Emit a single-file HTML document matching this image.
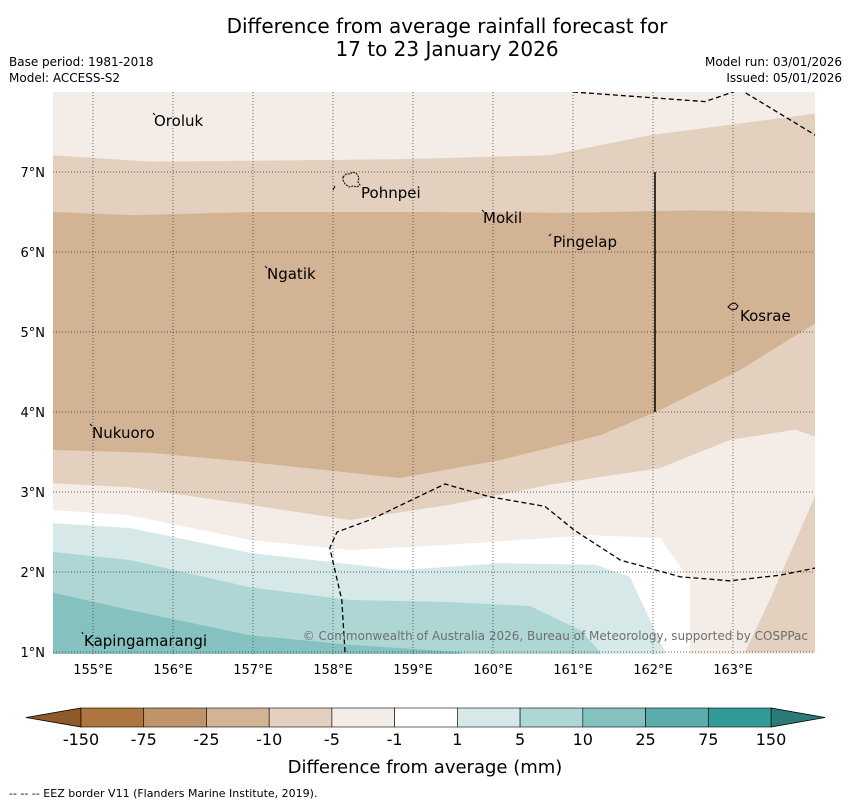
<!DOCTYPE html>
<html><head><meta charset="utf-8"><style>
html,body{margin:0;padding:0;background:#fff;}
svg{display:block;font-family:"DejaVu Sans","Liberation Sans",sans-serif;}
</style></head><body>
<svg id="chart" width="850" height="804" viewBox="0 0 850 804" xmlns="http://www.w3.org/2000/svg">
<text x="447" y="33" font-size="20" text-anchor="middle">Difference from average rainfall forecast for</text>
<text x="447" y="56" font-size="20" text-anchor="middle">17 to 23 January 2026</text>
<text x="9" y="66" font-size="12">Base period: 1981-2018</text>
<text x="9" y="82" font-size="12">Model: ACCESS-S2</text>
<text x="842" y="66" font-size="12" text-anchor="end">Model run: 03/01/2026</text>
<text x="842" y="82" font-size="12" text-anchor="end">Issued: 05/01/2026</text>
<defs><clipPath id="mapclip"><rect x="53" y="92" width="762" height="562"/></clipPath></defs>
<g id="map" clip-path="url(#mapclip)">
<rect x="53" y="92" width="762" height="562" fill="#f4ede7"/>
<g id="bands"></g>
<g id="grid"></g>
<g id="eez"></g>
<line x1="655" y1="172" x2="655" y2="412" stroke="#000" stroke-width="1.5"/>
<path d="M343,177 l3,-3 4,0 3,-2 4,2 2,4 -1,4 2,3 -3,2 -4,-1 -4,1 -4,-3 -2,-4z" fill="none" stroke="#000" stroke-dasharray="2,1"/>
<path d="M728,307 l3,-3 4,-1 3,3 -2,3 -4,1z" fill="none" stroke="#000"/>
</g>
<g font-size="15">
<text x="154" y="126">Oroluk</text>
<text x="361" y="198">Pohnpei</text>
<text x="483" y="223">Mokil</text>
<text x="553" y="247">Pingelap</text>
<text x="267" y="279">Ngatik</text>
<text x="740" y="321">Kosrae</text>
<text x="92" y="438">Nukuoro</text>
<text x="84" y="646">Kapingamarangi</text>
</g>
<g stroke="#000" stroke-width="1">
<line x1="153" y1="113" x2="155" y2="115"/><line x1="482" y1="210" x2="484" y2="212"/>
<line x1="549" y1="236" x2="551" y2="234"/><line x1="265" y1="266" x2="267" y2="268"/>
<line x1="90" y1="424" x2="92" y2="426"/><line x1="82" y1="632" x2="83" y2="634"/>
<line x1="333" y1="190" x2="335" y2="186"/>
</g>
<text x="808" y="640" font-size="12" fill="#6f6f6f" text-anchor="end">© Commonwealth of Australia 2026, Bureau of Meteorology, supported by COSPPac</text>
<g id="axes" font-size="13"></g>
<g id="cbar"></g>
<text x="425" y="773" font-size="18" text-anchor="middle">Difference from average (mm)</text>
<text x="9" y="797" font-size="11">--  --  -- EEZ border V11 (Flanders Marine Institute, 2019).</text>
</svg>
<script>
const lonTicks=[155,156,157,158,159,160,161,162,163];
const latTicks=[1,2,3,4,5,6,7];
const cbLevels=["-150","-75","-25","-10","-5","-1","1","5","10","25","75","150"];
const cbColors=["#ae7540","#c0946a","#d2b394","#e3d0be","#f4ede7","#ffffff","#d6e9e8","#aed6d5","#85c1bf","#5aadaa","#339a97"];
const bandA=[[154.5,7.21],[155.71,7.13],[156.96,7.14],[158.84,7.16],[160.71,7.21],[161.96,7.46],[164.03,7.73]];
const bandB=[[154.5,6.50],[155.5,6.46],[157,6.5],[159,6.5],[161,6.49],[162.5,6.52],[164.03,6.49]];
const bandC=[[154.5,3.525],[155.71,3.49],[156.96,3.375],[158.84,3.175],[160.09,3.4],[161.34,3.71],[162.09,4.025],[163.09,4.525],[164.03,5.11]];
const bandD=[[154.5,3.11],[155.46,3.06],[156.96,2.84],[158.21,2.65],[159.46,2.84],[160.71,3.09],[162.09,3.3],[162.96,3.65],[163.78,3.78],[164.03,3.69]];
const bandE=[[154.5,2.775],[155.46,2.71],[156.96,2.4],[158.21,2.275],[159.46,2.34],[161.21,2.46],[162.09,2.425],[162.46,1.9],[162.46,1.0]];
const bandF=[[154.5,2.61],[155.46,2.55],[156.96,2.24],[158.84,2.025],[160.09,2.11],[161.28,2.09],[161.71,1.94],[162.15,1.0]];
const bandG=[[154.5,2.25],[155.46,2.15],[156.96,1.81],[158.21,1.65],[159.46,1.625],[160.46,1.575],[161.09,1.275],[161.34,1.0]];
const bandH=[[154.5,1.74],[155.46,1.525],[156.96,1.21],[158.21,1.09],[159.59,1.0]];
const patchSE=[[163.15,1.0],[163.46,1.65],[164.03,2.96],[164.03,1.0]];
const eezNorth=[[161.0,8.0],[162.65,7.88],[163.09,8.03],[164.03,7.46]];
const eezSouth=[[158.15,1.0],[158.11,1.65],[157.96,2.3],[158.05,2.5],[158.46,2.65],[159.4,3.1],[159.96,2.94],[160.65,2.82],[161.02,2.52],[161.59,2.15],[162.34,1.94],[162.96,1.89],[163.59,1.96],[164.03,2.05]];
const NS="http://www.w3.org/2000/svg";
const X=lon=>53+(lon-154.5)*80;
const Y=lat=>92+(8-lat)*80;
function el(tag,attrs,parent){const e=document.createElementNS(NS,tag);for(const k in attrs)e.setAttribute(k,attrs[k]);parent.appendChild(e);return e;}
function pts(a){return a.map(p=>X(p[0]).toFixed(1)+","+Y(p[1]).toFixed(1)).join(" ");}
const bands=document.getElementById('bands');
function fillBelow(curve,color,name){
  const last=curve[curve.length-1];
  const closed=last[0]>=164?curve.concat([[164.1,0.9],[154.4,0.9]]):curve.concat([[last[0],0.9],[154.4,0.9]]);
  const p=el('polygon',{points:pts(closed),fill:color},bands);
  
  
}
fillBelow(bandA,cbColors[3],'band-minus5-to-minus10-north');
fillBelow(bandB,cbColors[2],'band-minus10-to-minus25');
fillBelow(bandC,cbColors[3],'band-minus5-to-minus10-south');
fillBelow(bandD,cbColors[4],'band-minus1-to-minus5');
fillBelow(bandE,cbColors[5],'band-near-average');
fillBelow(bandF,cbColors[6],'band-1-to-5');
fillBelow(bandG,cbColors[7],'band-5-to-10');
fillBelow(bandH,cbColors[8],'band-10-to-25');
const pse=el('polygon',{points:pts(patchSE),fill:cbColors[3]},bands);


const grid=document.getElementById('grid');
const axes=document.getElementById('axes');
lonTicks.forEach(l=>{
  const g=el('line',{x1:X(l),x2:X(l),y1:92,y2:654,stroke:'#333','stroke-width':0.7,'stroke-dasharray':'1,2'},grid);
  
  
  const t=el('text',{x:X(l),y:674,'text-anchor':'middle'},axes);t.textContent=l+'°E';
  
  
});
latTicks.forEach(l=>{
  const g=el('line',{x1:53,x2:815,y1:Y(l),y2:Y(l),stroke:'#333','stroke-width':0.7,'stroke-dasharray':'1,2'},grid);
  
  
  const t=el('text',{x:45,y:Y(l)+5,'text-anchor':'end'},axes);t.textContent=l+'°N';
  
  
});
const eez=document.getElementById('eez');
[eezNorth,eezSouth].forEach((c,i)=>{
  const l=el('polyline',{points:pts(c),fill:'none',stroke:'#000','stroke-width':1.3,'stroke-dasharray':'5,3'},eez);
  
  
});
const cb=document.getElementById('cbar');
const cx0=81,cw=(771-81)/11,cy=708,ch=19;
const lt=el('polygon',{points:`${cx0},${cy} ${cx0},${cy+ch} 26,${cy+ch/2}`,fill:'#8f5a2a',stroke:'#000','stroke-width':0.8},cb);


const rt=el('polygon',{points:`771,${cy} 771,${cy+ch} 825,${cy+ch/2}`,fill:'#2a7a78',stroke:'#000','stroke-width':0.8},cb);


cbColors.forEach((c,i)=>{
  const r=el('rect',{x:cx0+i*cw,y:cy,width:cw,height:ch,fill:c,stroke:'#000','stroke-width':0.6},cb);
  
  
});
cbLevels.forEach((s,i)=>{
  const t=el('text',{x:cx0+i*cw,y:745,'font-size':16,'text-anchor':'middle'},cb);t.textContent=s;
  
  
});
</script>
</body></html>
